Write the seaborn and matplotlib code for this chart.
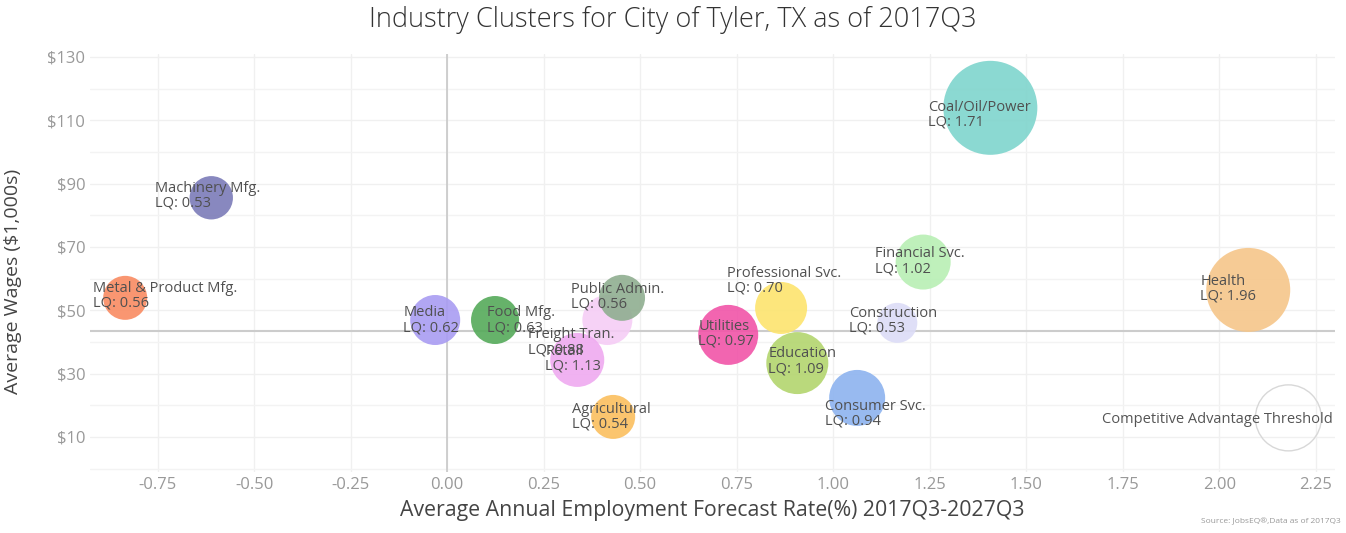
import numpy as np
import pandas as pd
import matplotlib.pyplot as plt
import seaborn as sns

# datos
industrias = ["Machinery Mfg.", "Metal & Product Mfg.", "Media", "Food Mfg.",
              "Freight Tran.", "Public Admin.", "Retail", "Agricultural",
              "Utilities", "Professional Svc.", "Education", "Consumer Svc.",
              "Construction", "Financial Svc.", "Coal/Oil/Power", "Health"]
crecimiento = [-0.611, -0.834, -0.031, 0.124, 0.415, 0.453, 0.337, 0.430,
               0.728, 0.865, 0.907, 1.062, 1.166, 1.233, 1.407, 2.075]
salarios = [85.5, 53.9, 46.9, 46.9, 46.9, 53.9, 34.3, 16.3,
            42.2, 50.7, 33.3, 22.3, 46.0, 65.2, 113.9, 56.4]
lq = [0.53, 0.56, 0.62, 0.63, 0.88, 0.56, 1.13, 0.54,
      0.97, 0.70, 1.09, 0.94, 0.53, 1.02, 1.71, 1.96]
tamano = [470, 484, 625, 576, 625, 529, 729, 484,
          900, 676, 961, 784, 400, 756, 2209, 1764]

umbral_x = 2.179
umbral_y = 16.0
umbral_tamano = 1089
linea_salario = 43.4

colores = ["#7b7bb8", "#f98b62", "#a99cf2", "#55aa5a", "#f6cdf6", "#8fae90",
           "#efaaf0", "#fbbf5e", "#f154a8", "#fde46e", "#b3d56e", "#8db3ef",
           "#dcdcf7", "#b8efb4", "#7fd5cd", "#f6c68a"]

# desplazamiento de etiquetas (pixeles)
offsets = [(-56, 2), (-32, 2), (-32, 0), (-8, 0), (-79, -22), (-51, 1),
           (-32, 1), (-41, 0), (-30, 1), (-54, 27), (-29, 2), (-32, -16),
           (-48, 2), (-48, 1), (-62, -7), (-48, 1)]

df = pd.DataFrame({"industria": industrias, "crecimiento": crecimiento,
                   "salario": salarios, "lq": lq, "tamano": tamano})

sns.set_style("white")
plt.rcParams["font.family"] = ["Open Sans", "DejaVu Sans"]

fig = plt.figure(figsize=(13.46, 5.33), dpi=100)
ax = fig.add_axes([0.0669, 0.1144, 0.925, 0.7843])

k = (1.44 ** 2)
smax = k * max(tamano)
sns.scatterplot(data=df, x="crecimiento", y="salario", hue="industria",
                palette=dict(zip(industrias, colores)), size="tamano",
                sizes=(0, smax), size_norm=(0, max(tamano)),
                linewidth=0, alpha=0.9, legend=False, ax=ax, zorder=3)

# circulo del umbral
ax.scatter([umbral_x], [umbral_y], s=k * umbral_tamano, facecolor="none",
           edgecolor="#d8d8d8", linewidth=1, zorder=3)
ax.annotate("Competitive Advantage Threshold", (umbral_x, umbral_y),
            xytext=(44, -2), textcoords="offset pixels", ha="right", va="center",
            fontsize=10.5, color="#555555", zorder=5)

for i, row in df.iterrows():
    ax.annotate(f"{row['industria']}\nLQ: {row['lq']:.2f}",
                (row["crecimiento"], row["salario"]), xytext=offsets[i],
                textcoords="offset pixels", ha="left", va="center",
                fontsize=10.5, color="#505050", linespacing=1.0, zorder=5)

ax.axvline(0, color="#c8c8c8", linewidth=1.2, zorder=2)
ax.axhline(linea_salario, color="#cccccc", linewidth=1.5, zorder=2)

ax.set_xlim(-0.925, 2.30)
ax.set_ylim(-1.1, 130.9)
ax.set_xticks(np.arange(-0.75, 2.26, 0.25))
ax.set_xticklabels([f"{v:.2f}" for v in np.arange(-0.75, 2.26, 0.25)])
ax.set_yticks(range(10, 131, 20))
ax.set_yticklabels([f"${v}" for v in range(10, 131, 20)])
ax.set_yticks(range(0, 131, 20), minor=True)
ax.grid(True, which="major", color="#f0f0f0", linewidth=1, zorder=0)
ax.grid(True, which="minor", axis="y", color="#f3f3f3", linewidth=1, zorder=0)
ax.tick_params(axis="both", which="both", length=0, labelsize=12,
               labelcolor="#999999")
for s in ax.spines.values():
    s.set_visible(False)

ax.set_xlabel("Average Annual Employment Forecast Rate(%) 2017Q3-2027Q3",
              fontsize=15.3, color="#444444", labelpad=5)
ax.set_ylabel("Average Wages ($1,000s)", fontsize=14, color="#444444")
ax.yaxis.set_label_coords(-0.055, 0.455)
fig.text(0.5, 0.962, "Industry Clusters for City of Tyler, TX as of 2017Q3",
         ha="center", va="center", fontsize=19.5, color="#333333",
         fontweight="light")
fig.text(0.996, 0.015, "Source: JobsEQ\u00ae,Data as of 2017Q3", ha="right",
         va="bottom", fontsize=6, color="#999999")

fig.savefig("out.png", dpi=100)
